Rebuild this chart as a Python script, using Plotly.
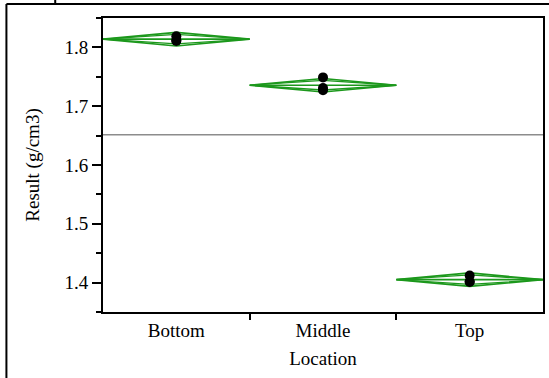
import math
import plotly.graph_objects as go

# Measured density by sampling location
locations = ["Bottom", "Middle", "Top"]
bottom_vals = [1.819, 1.811, 1.812]
middle_vals = [1.749, 1.731, 1.727]
top_vals = [1.412, 1.402, 1.401]
# 95% confidence half-widths of each group mean (pooled)
ci_half = [0.0115, 0.0115, 0.0115]

y_ticks = [1.4, 1.5, 1.6, 1.7, 1.8]

groups = [bottom_vals, middle_vals, top_vals]
means = [sum(g) / len(g) for g in groups]
all_vals = [v for g in groups for v in g]
grand_mean = sum(all_vals) / len(all_vals)

GREEN = "rgb(28,152,28)"
SERIF = "Liberation Serif"
FONT = dict(family=SERIF, size=19, color="black")

fig = go.Figure()

# grand mean reference line
fig.add_trace(go.Scatter(
    x=[-0.5, len(locations) - 0.5], y=[grand_mean, grand_mean],
    mode="lines", line=dict(color="rgb(140,140,140)", width=1.6),
    hoverinfo="skip", showlegend=False))

# means diamonds with overlap marks
for i, (m, h) in enumerate(zip(means, ci_half)):
    xl, xr = i - 0.5, i + 0.5
    k = math.sqrt(2) / 2
    fig.add_trace(go.Scatter(
        x=[xl, i, xr, i, xl], y=[m, m + h, m, m - h, m],
        mode="lines", line=dict(color=GREEN, width=1.6),
        hoverinfo="skip", showlegend=False))
    fig.add_trace(go.Scatter(
        x=[xl, i, xr, i, xl], y=[m, m + h * k, m, m - h * k, m],
        mode="lines", line=dict(color=GREEN, width=1.3),
        hoverinfo="skip", showlegend=False))
    fig.add_trace(go.Scatter(
        x=[xl, xr], y=[m, m],
        mode="lines", line=dict(color=GREEN, width=1.6),
        hoverinfo="skip", showlegend=False))

# individual observations
for i, g in enumerate(groups):
    fig.add_trace(go.Scatter(
        x=[i] * len(g), y=g, mode="markers",
        marker=dict(color="black", size=10, line=dict(width=0)),
        showlegend=False))

fig.update_layout(
    width=549, height=378,
    margin=dict(l=103, r=4, t=18, b=66),
    paper_bgcolor="white", plot_bgcolor="white",
    font=FONT,
    xaxis=dict(
        range=[-0.5, len(locations) - 0.5],
        tickmode="array", tickvals=list(range(len(locations))),
        ticktext=locations, ticks="", showgrid=False, zeroline=False,
        tickfont=FONT,
        showline=True, linecolor="black", linewidth=2, mirror=True,
        minor=dict(tickmode="array",
                   tickvals=[i + 0.5 for i in range(len(locations) - 1)],
                   ticks="outside", ticklen=6, tickwidth=1.5,
                   tickcolor="black", showgrid=False),
        title=dict(text="Location", standoff=12, font=FONT),
        fixedrange=True),
    yaxis=dict(
        range=[1.35, 1.85], tickmode="array", tickvals=y_ticks,
        ticktext=[f"{v:.1f}" for v in y_ticks],
        ticks="outside", ticklen=9, tickwidth=1.5, tickcolor="black",
        tickfont=FONT,
        showgrid=False, zeroline=False,
        showline=True, linecolor="black", linewidth=2, mirror=True,
        minor=dict(dtick=0.05, tick0=1.35, ticks="outside", ticklen=5,
                   tickwidth=1.5, tickcolor="black", showgrid=False),
        title=dict(text="Result (g/cm3)", standoff=20, font=FONT),
        fixedrange=True),
    shapes=[
        # outer report frame
        dict(type="line", xref="paper", yref="paper",
             x0=-0.2195, x1=1.1, y0=1.0476, y1=1.0476,
             line=dict(color="black", width=2)),
        dict(type="line", xref="paper", yref="paper",
             x0=-0.2195, x1=-0.2195, y0=1.0476, y1=-0.3,
             line=dict(color="black", width=2)),
        dict(type="line", xref="paper", yref="paper",
             x0=-0.1086, x1=-0.1086, y0=1.0476, y1=1.07,
             line=dict(color="black", width=2)),
    ],
)

fig.write_html("out.html")
